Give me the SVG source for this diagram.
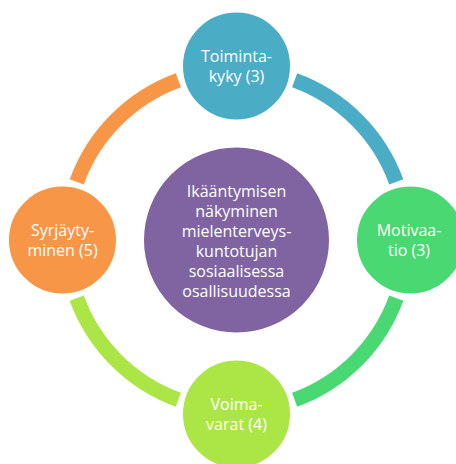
<svg xmlns="http://www.w3.org/2000/svg" width="456" height="464" viewBox="0 0 456 464">
<style>
.arc{fill:none;stroke-width:15;stroke-linecap:butt}
.node{stroke:#ffffff;stroke-width:3}
.lbl{font-family:"Open Sans","DejaVu Sans",sans-serif;font-size:16px;fill:#ffffff;text-anchor:middle}
</style>
<rect width="456" height="464" fill="#ffffff"/>
<g id="connectors">
<path class="arc" stroke="#F79646" d="M76.75,181.86 A170,170 0 0 1 178.36,80.25"/>
<path class="arc" stroke="#4BACC6" d="M294.64,80.25 A170,170 0 0 1 396.25,181.86"/>
<path class="arc" stroke="#4AD873" d="M396.25,298.14 A170,170 0 0 1 294.64,399.75"/>
<path class="arc" stroke="#ACE646" d="M178.36,399.75 A170,170 0 0 1 76.75,298.14"/>
</g>
<g id="center">
<circle class="node" cx="236.5" cy="240" r="94" fill="#8064A2"/>
<text class="lbl"><tspan x="236.5" y="197">Ikääntymisen</tspan><tspan x="236.5" y="217">näkyminen</tspan><tspan x="236.5" y="237">mielenterveys-</tspan><tspan x="236.5" y="257">kuntotujan</tspan><tspan x="236.5" y="277">sosiaalisessa</tspan><tspan x="236.5" y="297">osallisuudessa</tspan></text>
</g>
<g id="toimintakyky">
<circle class="node" cx="236.5" cy="66" r="55" fill="#4BACC6"/>
<text class="lbl"><tspan x="236.5" y="62">Toiminta-</tspan><tspan x="236.5" y="82">kyky (3)</tspan></text>
</g>
<g id="motivaatio">
<circle class="node" cx="410.5" cy="240" r="55" fill="#4AD873"/>
<text class="lbl"><tspan x="409" y="236">Motivaa-</tspan><tspan x="409" y="256">tio (3)</tspan></text>
</g>
<g id="voimavarat">
<circle class="node" cx="236.5" cy="414" r="55" fill="#ACE646"/>
<text class="lbl"><tspan x="236.5" y="410">Voima-</tspan><tspan x="236.5" y="430">varat (4)</tspan></text>
</g>
<g id="syrjaytyminen">
<circle class="node" cx="62.5" cy="240" r="55" fill="#F79646"/>
<text class="lbl"><tspan x="62.5" y="236">Syrjäyty-</tspan><tspan x="62.5" y="256">minen (5)</tspan></text>
</g>
</svg>
